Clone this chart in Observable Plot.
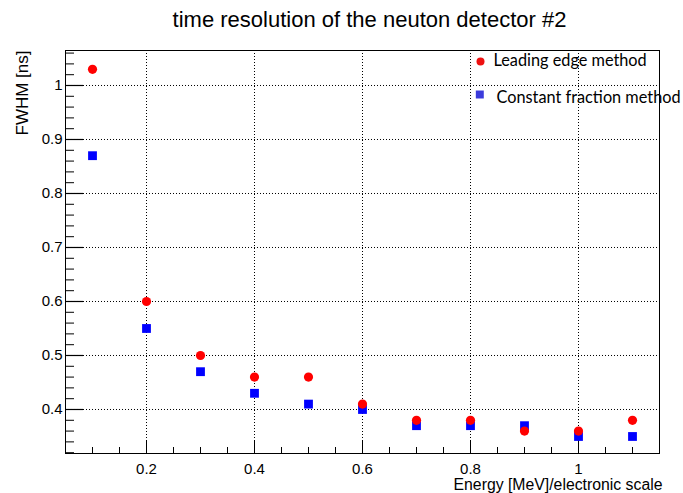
<!DOCTYPE html>
<html>
<head>
<meta charset="utf-8">
<script src="https://cdn.jsdelivr.net/npm/d3@7"></script>
<script src="https://cdn.jsdelivr.net/npm/@observablehq/plot@0.6"></script>
<style>
  body { margin: 0; background: #ffffff; }
  #chart svg { display: block; }
</style>
</head>
<body>
<div id="chart"></div>
<script>
// Energy points (MeV, electronic scale) and measured FWHM (ns) for each method
const energy = [0.1, 0.2, 0.3, 0.4, 0.5, 0.6, 0.7, 0.8, 0.9, 1.0, 1.1];
const leadingEdge = [1.03, 0.60, 0.50, 0.46, 0.46, 0.41, 0.38, 0.38, 0.36, 0.36, 0.38];
const constantFraction = [0.87, 0.55, 0.47, 0.43, 0.41, 0.40, 0.37, 0.37, 0.37, 0.35, 0.35];

// Axis ticks and their labels
const xTicks = [0.2, 0.4, 0.6, 0.8, 1.0];
const xTickLabels = ["0.2", "0.4", "0.6", "0.8", "1"];
const yTicks = [0.4, 0.5, 0.6, 0.7, 0.8, 0.9, 1.0];
const yTickLabels = ["0.4", "0.5", "0.6", "0.7", "0.8", "0.9", "1"];

const title = "time resolution of the neuton detector #2";
const xTitle = "Energy [MeV]/electronic scale";
const yTitle = "FWHM [ns]";
const seriesNames = ["Leading edge method", "Constant fraction method"];

const W = 683, H = 493;
const mL = 65, mR = 24, mT = 50, mB = 40;
const frameW = W - mL - mR, frameH = H - mT - mB;

// minor tick positions (ROOT-style subdivisions)
const isMajor = (v, majors) => majors.some(m => Math.abs(m - v) < 1e-9);
const xMinor = d3.range(0.1, 1.151, 0.05).map(v => +v.toFixed(2)).filter(v => !isMajor(v, xTicks));
const yMinor = d3.range(0.32, 1.061, 0.02).map(v => +v.toFixed(2)).filter(v => !isMajor(v, yTicks));

const font = "Liberation Sans, Arial, sans-serif";
const black = "#000000";

const chart = Plot.plot({
  width: W,
  height: H,
  marginLeft: mL,
  marginRight: mR,
  marginTop: mT,
  marginBottom: mB,
  style: { background: "#ffffff", color: black },
  x: { domain: [0.05, 1.15], axis: null },
  y: { domain: [0.3185, 1.0648], axis: null },
  marks: [
    // dotted grid at major ticks
    Plot.gridX(xTicks, { stroke: black, strokeOpacity: 1, strokeWidth: 1, strokeDasharray: "1,2" }),
    Plot.gridY(yTicks, { stroke: black, strokeOpacity: 1, strokeWidth: 1, strokeDasharray: "1,2" }),

    // inward ticks along bottom and left edges
    Plot.tickX(xTicks, { x: d => d, insetTop: frameH - 12, stroke: black, strokeWidth: 1 }),
    Plot.tickX(xMinor, { x: d => d, insetTop: frameH - 6, stroke: black, strokeWidth: 1 }),
    Plot.tickY(yTicks, { y: d => d, insetRight: frameW - 18, stroke: black, strokeWidth: 1.2 }),
    Plot.tickY(yMinor, { y: d => d, insetRight: frameW - 9, stroke: black, strokeWidth: 1 }),

    // tick labels
    Plot.text(xTicks, {
      x: d => d, text: (d, i) => xTickLabels[i],
      frameAnchor: "bottom", lineAnchor: "bottom", dy: 20.5,
      fontFamily: font, fontSize: 15, fill: black
    }),
    Plot.text(yTicks, {
      y: d => d, text: (d, i) => yTickLabels[i],
      frameAnchor: "left", textAnchor: "end", dx: -3,
      fontFamily: font, fontSize: 15, fill: black
    }),

    // axis titles
    Plot.text([xTitle], {
      frameAnchor: "bottom-right", textAnchor: "end", lineAnchor: "bottom",
      dx: 3, dy: 36, fontFamily: font, fontSize: 15.8, fill: black
    }),
    Plot.text([yTitle], {
      frameAnchor: "top-left", rotate: -90, textAnchor: "end", lineAnchor: "bottom",
      dx: -37.7, dy: 0, fontFamily: font, fontSize: 17, fill: black
    }),

    // plot title
    Plot.text([title], {
      frameAnchor: "top", lineAnchor: "bottom", dx: 7, dy: -24,
      fontFamily: font, fontSize: 22, fill: black
    }),

    // data points
    Plot.dot(energy, {
      x: d => d, y: (d, i) => constantFraction[i],
      symbol: "square", r: 4.97, fill: "#0000ff", stroke: "none"
    }),
    Plot.dot(energy, {
      x: d => d, y: (d, i) => leadingEdge[i],
      symbol: "circle", r: 4.6, fill: "#ff0000", stroke: "none"
    }),

    // legend
    Plot.dot([seriesNames[0]], {
      frameAnchor: "top-right", dx: -179, dy: 11,
      symbol: "circle", r: 4, fill: "#ee1111", stroke: "none"
    }),
    Plot.text([seriesNames[0]], {
      frameAnchor: "top-right", textAnchor: "start", lineAnchor: "bottom",
      dx: -166, dy: 15.7, fontFamily: "Lato", fontSize: 16.3, fill: black
    }),
    Plot.dot([seriesNames[1]], {
      frameAnchor: "top-right", dx: -179.7, dy: 44,
      symbol: "square", r: 4.5, fill: "#3c3cdc", stroke: "none"
    }),
    Plot.text([seriesNames[1]], {
      frameAnchor: "top-right", textAnchor: "start", lineAnchor: "bottom",
      dx: -163, dy: 52.3, fontFamily: "Lato", fontSize: 16.3, fill: black
    }),

    Plot.frame({ stroke: black, strokeWidth: 1 })
  ]
});

document.getElementById("chart").appendChild(chart);
</script>
</body>
</html>
